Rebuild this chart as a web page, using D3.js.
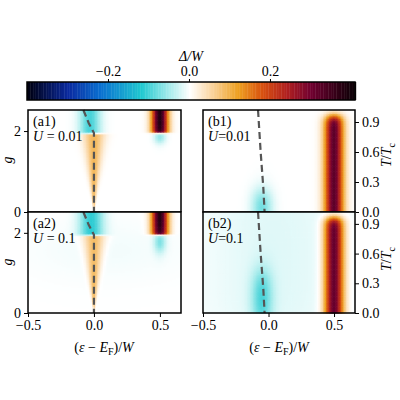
<!DOCTYPE html>
<html>
<head>
<meta charset="UTF-8">
<script src="https://cdn.jsdelivr.net/npm/d3@7"></script>
<style>
body{margin:0;background:#fff}
text{font-family:"Liberation Serif","DejaVu Serif",serif;font-size:14px}
.ax path,.ax line{stroke:#000}
</style>
</head>
<body>
<script>
// colour map stops (value, colour)
var cmapVals = [-0.4,-0.3,-0.22,-0.12,-0.05,0,0.05,0.12,0.18,0.24,0.3,0.4];
var cmapCols = ["#000010","#0a2aa0","#0a70d0","#20c8d0","#a8ecec","#ffffff","#fbd8a8","#eea020","#d85010","#b02020","#700030","#100008"];
var cbTicks = [-0.2,0.0,0.2];
var xTicks = [-0.5,0.0,0.5];
var gTicks = [0,2];
var tTicks = [0.0,0.3,0.6,0.9];

// features per panel: x centre, x width, y range, y edge softness, amplitude, taper
var blobsA1 = [
  {x:-0.03,sx:0.08,y0:1.95,y1:2.6,soft:0.01,amp:-0.1,taper:0},
  {x:0.5,sx:0.06,y0:1.97,y1:2.6,soft:0.01,amp:0.38,taper:0},
  {x:0.5,sx:0.045,y0:1.75,y1:1.97,soft:0.06,amp:-0.08,taper:0},
  {x:0.0,sx:0.08,y0:0,y1:1.95,soft:0.01,amp:0.09,taper:1}
];
var blobsA2 = [
  {x:-0.02,sx:0.09,y0:1.95,y1:2.6,soft:0.01,amp:-0.11,taper:0},
  {x:0.1,sx:0.6,y0:1.2,y1:1.95,soft:0.3,amp:-0.012,taper:0},
  {x:0.5,sx:0.06,y0:1.97,y1:2.6,soft:0.01,amp:0.38,taper:0},
  {x:0.5,sx:0.045,y0:1.6,y1:1.97,soft:0.1,amp:-0.09,taper:0},
  {x:0.0,sx:0.08,y0:0,y1:1.95,soft:0.01,amp:0.09,taper:1}
];
var blobsB1 = [
  {x:-0.05,sx:0.08,y0:-0.1,y1:0.2,soft:0.06,amp:-0.09,taper:0},
  {x:0.5,sx:0.07,y0:-0.1,y1:0.96,soft:0.025,amp:0.32,taper:0}
];
var blobsB2 = [
  {x:0.05,sx:0.55,y0:-0.2,y1:1.3,soft:0.1,amp:-0.018,taper:0},
  {x:-0.05,sx:0.08,y0:-0.1,y1:0.4,soft:0.08,amp:-0.09,taper:0},
  {x:0.5,sx:0.07,y0:-0.1,y1:0.96,soft:0.025,amp:0.32,taper:0}
];
// dashed guide lines
var dashA = [[-0.08,2.52],[-0.04,2.2],[0,1.95],[0,0]];
var dashB = [[-0.08,1.02],[-0.06,0.6],[-0.04,0.25],[-0.03,0]];

var W=400,H=400;
var svg=d3.select("body").append("svg").attr("width",W).attr("height",H);
var color=d3.scaleLinear().domain(cmapVals).range(cmapCols).clamp(true);
var sig=function(t){return 1/(1+Math.exp(-t));};
var fmt=function(d){return d3.format(".1f")(d).replace("-","\u2212");};

// colorbar
var cb=d3.scaleLinear().domain([-0.4,0.41]).range([27,355]);
var cbN=d3.range(-0.4,0.41,0.004);
svg.selectAll(".cb").data(cbN).enter().append("rect")
  .attr("x",d=>cb(d)).attr("y",82).attr("width",2).attr("height",18).attr("fill",d=>color(d));
svg.append("rect").attr("x",27).attr("y",82).attr("width",328).attr("height",18).attr("fill","none").attr("stroke","#000").attr("stroke-width",1.5);
svg.append("g").attr("class","ax").attr("transform","translate(0,82)")
  .call(d3.axisTop(cb).tickValues(cbTicks).tickFormat(fmt).tickSize(3))
  .call(g=>g.select(".domain").remove());
svg.append("text").attr("x",191).attr("y",61).attr("text-anchor","middle").attr("font-style","italic").text("\u0394/W");

function panel(x0,x1,y0,y1,ydom,blobs,dash,lab1,lab2,yt,left,bottom){
  var x=d3.scaleLinear().domain([-0.5,0.66]).range([x0,x1]);
  var y=d3.scaleLinear().domain(ydom).range([y1,y0]);
  var g=svg.append("g");
  var nx=100,ny=60;
  var cells=[];
  for(var i=0;i<nx;i++)for(var j=0;j<ny;j++){
    var xv=-0.5+(i+0.5)*(1.16/nx), yv=ydom[0]+(j+0.5)*((ydom[1]-ydom[0])/ny);
    var v=0;
    blobs.forEach(function(b){
      var s=b.taper?Math.max(0.004,b.sx*(yv-b.y0)/(b.y1-b.y0)):b.sx;
      var ey=sig((yv-b.y0)/b.soft)*sig((b.y1-yv)/b.soft);
      v+=b.amp*Math.exp(-Math.pow((xv-b.x)/s,2))*ey;
    });
    cells.push({i:i,j:j,v:v});
  }
  g.selectAll("rect").data(cells).enter().append("rect")
    .attr("x",d=>x(-0.5+d.i*1.16/nx)).attr("y",d=>y(ydom[0]+(d.j+1)*(ydom[1]-ydom[0])/ny))
    .attr("width",(x1-x0)/nx+0.6).attr("height",(y1-y0)/ny+0.6).attr("fill",d=>color(d.v));
  g.append("path").datum(dash).attr("d",d3.line().x(d=>x(d[0])).y(d=>y(d[1])))
    .attr("fill","none").attr("stroke","#555").attr("stroke-width",2.2).attr("stroke-dasharray","7,4");
  g.append("rect").attr("x",x0).attr("y",y0).attr("width",x1-x0).attr("height",y1-y0)
    .attr("fill","none").attr("stroke","#000").attr("stroke-width",1.5);
  var yax=left?d3.axisLeft(y):d3.axisRight(y);
  g.append("g").attr("class","ax").attr("transform","translate("+(left?x0:x1)+",0)")
    .call(yax.tickValues(yt).tickFormat(left?d3.format("d"):d3.format(".1f")).tickSize(4))
    .call(a=>a.select(".domain").remove());
  if(bottom){
    g.append("g").attr("class","ax").attr("transform","translate(0,"+y1+")")
      .call(d3.axisBottom(x).tickValues(xTicks).tickFormat(fmt).tickSize(4))
      .call(a=>a.select(".domain").remove());
  }
  g.append("text").attr("x",x0+5).attr("y",y0+16).text(lab1);
  g.append("text").attr("x",x0+5).attr("y",y0+31).html(lab2);
}
panel(28,181,110,212,[0,2.52],blobsA1,dashA,"(a1)","<tspan font-style='italic'>U</tspan> = 0.01",gTicks,true,false);
panel(28,181,212,313,[0,2.52],blobsA2,dashA,"(a2)","<tspan font-style='italic'>U</tspan> = 0.1",gTicks,true,true);
panel(203,355,110,212,[0,1.02],blobsB1,dashB,"(b1)","<tspan font-style='italic'>U</tspan>=0.01",tTicks,false,false);
panel(203,355,212,313,[0,1.02],blobsB2,dashB,"(b2)","<tspan font-style='italic'>U</tspan>=0.1",tTicks,false,true);

var tLab="<tspan font-style='italic'>T</tspan>/<tspan font-style='italic'>T</tspan><tspan font-size='10' dy='4'>c</tspan>";
var xLab="(<tspan font-style='italic'>\u03b5</tspan> \u2212 <tspan font-style='italic'>E</tspan><tspan font-size='10' dy='3'>F</tspan><tspan dy='-3'>)/</tspan><tspan font-style='italic'>W</tspan>";
svg.append("text").attr("transform","translate(12,160) rotate(-90)").attr("text-anchor","middle").attr("font-style","italic").text("g");
svg.append("text").attr("transform","translate(12,262) rotate(-90)").attr("text-anchor","middle").attr("font-style","italic").text("g");
svg.append("text").attr("transform","translate(391,155) rotate(-90)").attr("text-anchor","middle").html(tLab);
svg.append("text").attr("transform","translate(391,259) rotate(-90)").attr("text-anchor","middle").html(tLab);
svg.append("text").attr("x",104).attr("y",352).attr("text-anchor","middle").html(xLab);
svg.append("text").attr("x",279).attr("y",352).attr("text-anchor","middle").html(xLab);
</script>
</body>
</html>
